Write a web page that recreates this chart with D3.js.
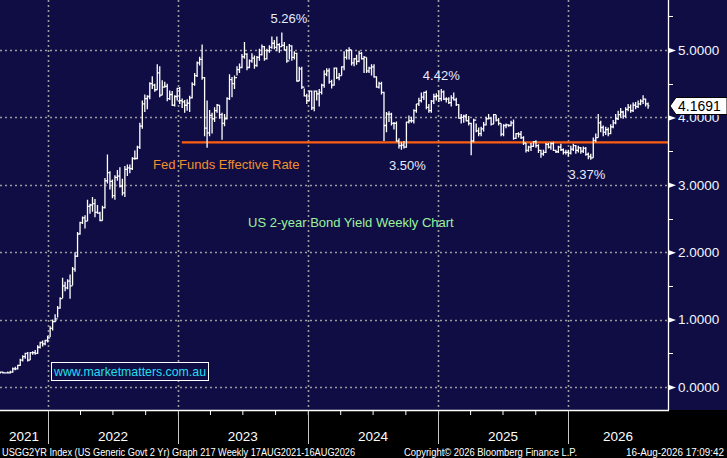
<!DOCTYPE html>
<html>
<head>
<meta charset="utf-8">
<script src="https://cdn.jsdelivr.net/npm/d3@7"></script>
<style>
  html, body { margin: 0; padding: 0; background: #000; }
  svg { display: block; }
  text { font-family: "Liberation Sans", Arial, sans-serif; }
</style>
</head>
<body>
<svg id="chart" width="727" height="458"></svg>
<script>
// weekly bars, first bar week ending 20 Aug 2021, one bar per week
const firstWeek = Date.UTC(2021, 7, 20);

const closes = [
  // 2021
  0.22,0.21,0.21,0.21,0.22,0.27,0.27,0.32,0.40,0.45,0.50,0.40,0.51,0.51,0.50,0.59,0.66,0.64,0.69,0.73,
  // 2022
  0.87,0.97,1.01,1.17,1.31,1.50,1.47,1.57,1.50,1.75,1.94,2.27,2.44,2.51,2.46,2.68,2.70,2.72,2.59,2.58,2.47,2.66,3.06,3.18,3.05,2.84,
  3.11,3.13,2.98,2.88,3.23,3.25,3.24,3.39,3.39,3.56,3.87,4.20,4.28,4.31,4.50,4.48,4.41,4.66,4.33,4.45,4.46,4.28,4.34,4.18,4.31,4.43,
  // 2023
  4.25,4.23,4.18,4.21,4.29,4.49,4.62,4.81,4.86,4.59,3.84,3.77,4.03,3.98,4.10,4.18,4.04,3.91,3.98,4.28,4.56,4.50,4.59,4.71,4.74,4.90,
  4.94,4.74,4.84,4.88,4.77,4.89,4.93,5.05,4.87,4.99,5.04,5.10,5.04,5.08,5.05,5.07,5.00,4.84,5.06,4.89,4.95,4.54,4.72,4.45,4.32,4.25,
  // 2024
  4.39,4.14,4.39,4.35,4.37,4.48,4.64,4.69,4.53,4.48,4.73,4.59,4.62,4.75,4.89,4.99,5.00,4.81,4.87,4.83,4.95,4.87,4.89,4.69,4.73,4.75,
  4.60,4.45,4.50,4.37,3.88,4.05,4.05,3.91,3.91,3.65,3.58,3.59,3.56,3.93,3.95,3.95,4.10,4.20,4.25,4.30,4.37,4.15,4.10,4.24,4.31,4.32,
  // 2025
  4.28,4.38,4.27,4.27,4.22,4.29,4.26,4.19,3.99,4.00,4.02,3.95,3.91,3.65,3.96,3.80,3.76,3.83,3.89,3.98,3.99,3.90,4.04,3.96,3.91,3.75,
  3.88,3.89,3.88,3.92,3.69,3.76,3.75,3.70,3.62,3.51,3.56,3.57,3.64,3.58,3.51,3.46,3.48,3.60,3.56,3.61,3.51,3.49,3.56,3.52,3.48,3.48,
  // 2026
  3.47,3.53,3.58,3.51,3.55,3.50,3.54,3.45,3.42,3.40,3.66,3.70,3.92,3.85,3.78,3.82,3.76,3.86,3.92,3.98,4.04,4.08,4.02,4.12,4.15,4.10,
  4.18,4.16,4.20,4.24,4.27,4.20,4.17
];

const highs = [
  0.23,0.23,0.22,0.23,0.24,0.29,0.30,0.33,0.42,0.47,0.51,0.52,0.52,0.53,0.55,0.62,0.67,0.69,0.70,0.76,
  0.90,1.00,1.08,1.20,1.33,1.62,1.56,1.60,1.67,1.78,2.00,2.30,2.45,2.53,2.55,2.78,2.72,2.82,2.79,2.70,2.60,2.69,3.10,3.45,3.20,3.08,
  3.14,3.22,3.26,3.09,3.28,3.30,3.30,3.41,3.51,3.58,3.92,4.25,4.34,4.33,4.52,4.61,4.50,4.79,4.76,4.55,4.53,4.50,4.40,4.39,4.33,4.44,
  4.45,4.28,4.26,4.27,4.32,4.52,4.66,4.83,4.90,5.08,4.60,4.25,4.11,4.07,4.15,4.20,4.18,4.07,4.05,4.30,4.64,4.60,4.62,4.76,4.80,4.94,
  5.12,4.95,4.86,4.95,4.92,4.91,5.02,5.08,5.06,5.02,5.07,5.20,5.15,5.20,5.10,5.26,5.12,5.06,5.09,5.07,4.98,4.96,4.75,4.75,4.43,4.35,
  4.40,4.40,4.40,4.40,4.42,4.50,4.70,4.73,4.73,4.56,4.74,4.74,4.66,4.76,4.98,5.01,5.04,5.00,4.88,4.93,4.99,4.97,4.91,4.89,4.75,4.79,
  4.79,4.61,4.53,4.53,4.38,4.08,4.09,4.07,3.93,3.94,3.69,3.64,3.65,3.94,4.03,4.01,4.12,4.20,4.29,4.37,4.38,4.40,4.20,4.26,4.35,4.36,
  4.40,4.42,4.40,4.30,4.30,4.33,4.37,4.29,4.20,4.05,4.04,4.05,4.02,3.92,3.98,3.91,3.85,3.86,3.93,4.01,4.05,4.00,4.05,4.04,3.99,3.91,
  3.90,3.91,3.90,3.95,3.97,3.77,3.78,3.80,3.72,3.62,3.58,3.62,3.65,3.66,3.60,3.52,3.52,3.62,3.62,3.63,3.64,3.52,3.58,3.61,3.54,3.52,
  3.52,3.58,3.61,3.59,3.58,3.56,3.57,3.56,3.48,3.46,3.70,3.76,4.05,3.95,3.88,3.86,3.85,3.90,3.96,4.05,4.10,4.14,4.10,4.15,4.20,4.19,
  4.22,4.23,4.25,4.27,4.33,4.28,4.22
];

const lows = [
  0.20,0.20,0.20,0.20,0.20,0.21,0.25,0.26,0.31,0.38,0.42,0.38,0.40,0.48,0.48,0.49,0.57,0.60,0.62,0.66,
  0.74,0.84,0.96,1.03,1.16,1.32,1.42,1.45,1.31,1.51,1.71,1.93,2.26,2.42,2.35,2.46,2.57,2.60,2.52,2.57,2.46,2.47,2.65,3.02,2.93,2.80,
  2.78,3.06,2.96,2.84,2.82,3.13,3.17,3.22,3.37,3.38,3.53,3.83,4.08,4.12,4.27,4.42,4.38,4.41,4.30,4.33,4.44,4.24,4.26,4.17,4.16,4.25,
  4.20,4.14,4.07,4.10,4.08,4.28,4.47,4.60,4.77,4.56,3.72,3.55,3.72,3.76,3.93,4.07,3.98,3.67,3.87,3.97,4.26,4.30,4.42,4.62,4.66,4.73,
  4.87,4.70,4.73,4.81,4.72,4.75,4.84,4.92,4.84,4.86,4.96,5.02,5.01,4.98,4.96,5.05,4.99,4.81,4.86,4.84,4.86,4.53,4.54,4.42,4.31,4.20,
  4.24,4.11,4.09,4.25,4.16,4.34,4.44,4.61,4.50,4.43,4.47,4.57,4.55,4.62,4.70,4.86,4.86,4.77,4.76,4.78,4.82,4.86,4.66,4.66,4.66,4.62,
  4.59,4.44,4.43,4.34,3.65,3.78,3.93,3.88,3.82,3.64,3.54,3.52,3.54,3.55,3.91,3.92,3.91,4.07,4.17,4.22,4.26,4.12,4.07,4.07,4.20,4.25,
  4.23,4.24,4.26,4.22,4.20,4.16,4.25,4.17,3.98,3.91,3.92,3.94,3.88,3.44,3.63,3.78,3.72,3.72,3.79,3.88,3.97,3.88,3.90,3.94,3.88,3.72,
  3.72,3.84,3.86,3.87,3.67,3.68,3.70,3.68,3.59,3.48,3.49,3.50,3.56,3.55,3.47,3.40,3.43,3.47,3.54,3.52,3.50,3.47,3.47,3.50,3.45,3.45,
  3.42,3.45,3.50,3.46,3.48,3.46,3.47,3.43,3.38,3.37,3.40,3.63,3.70,3.78,3.72,3.74,3.72,3.75,3.84,3.90,3.96,4.00,3.98,4.00,4.09,4.07,
  4.08,4.12,4.14,4.18,4.20,4.16,4.13
];

const yTicks = [0, 1, 2, 3, 4, 5];
const yMinor = [0.5, 1.5, 2.5, 3.5, 4.5, 5.5];
const years = [2021, 2022, 2023, 2024, 2025, 2026];
const lastPrice = 4.1691;

const fedRate = 3.63;
const fedStart = Date.UTC(2023, 0, 12);

// annotations: [text, date, value, above?]
const callouts = [
  ['5.26%', Date.UTC(2023, 10, 9), 5.26, true],
  ['4.42%', Date.UTC(2025, 0, 10), 4.42, true],
  ['3.50%', Date.UTC(2024, 9, 7), 3.50, false],
  ['3.37%', Date.UTC(2026, 1, 23), 3.37, false]
];

const footLeft = 'USGG2YR Index (US Generic Govt 2 Yr) Graph 217 Weekly 17AUG2021-16AUG2026';
const footMid = 'Copyright\u00A9 2026 Bloomberg Finance L.P.';
const footRight = '16-Aug-2026 17:09:42';

const navy = '#0f0d44';
const plotR = 668, plotB = 410;

const svg = d3.select('#chart');

const x = d3.scaleUtc()
  .domain([new Date(Date.UTC(2022, 0, 1)), new Date(Date.UTC(2026, 0, 1))])
  .range([48, 568]);
const y = d3.scaleLinear().domain([0, 5]).range([387, 50]);

const weeks = closes.map((c, i) => ({
  date: d3.utcDay.offset(new Date(firstWeek), 7 * i),
  open: i === 0 ? c : closes[i - 1],
  high: highs[i],
  low: lows[i],
  close: c
}));

svg.append('rect').attr('x', 0).attr('y', 0).attr('width', 727).attr('height', plotB).attr('fill', navy);

// --- GRID ---
svg.append('g').selectAll('line').data(yTicks).enter().append('line')
  .attr('x1', 0).attr('x2', plotR)
  .attr('y1', d => Math.round(y(d)) + 0.5).attr('y2', d => Math.round(y(d)) + 0.5)
  .attr('stroke', '#9c9c9c').attr('stroke-width', 1.6).attr('stroke-dasharray', '2,3');

const yearStarts = years.slice(1).map(yr => new Date(Date.UTC(yr, 0, 1)));
svg.append('g').selectAll('line').data(yearStarts).enter().append('line')
  .attr('x1', d => Math.round(x(d)) + 0.5).attr('x2', d => Math.round(x(d)) + 0.5)
  .attr('y1', 0).attr('y2', plotB)
  .attr('stroke', '#9c9c9c').attr('stroke-width', 1.6).attr('stroke-dasharray', '2,3');

// --- FED FUNDS LINE ---
svg.append('line')
  .attr('x1', x(new Date(fedStart))).attr('x2', plotR)
  .attr('y1', y(fedRate)).attr('y2', y(fedRate))
  .attr('stroke', '#ff5f0f').attr('stroke-width', 2.2);

// --- OHLC BARS ---
const bars = svg.append('g').attr('stroke', '#fff').attr('stroke-width', 1.3).attr('fill', 'none');
weeks.forEach(d => {
  const cx = x(d.date);
  bars.append('path')
    .attr('d', `M${cx},${y(d.high)}V${y(d.low)}M${cx - 1.3},${y(d.open)}H${cx}M${cx},${y(d.close)}H${cx + 1.3}`);
});

// --- TEXTS ---
svg.append('text').attr('x', 153).attr('y', 169)
  .attr('fill', '#f0902c').attr('font-size', 13).text('Fed Funds Effective Rate');
svg.append('text').attr('x', 248).attr('y', 227)
  .attr('fill', '#9cf29c').attr('font-size', 13).text('US 2-year Bond Yield Weekly Chart');

svg.append('g').selectAll('text').data(callouts).enter().append('text')
  .attr('x', d => x(new Date(d[1])))
  .attr('y', d => d[3] ? y(d[2]) - 9 : y(d[2]) + 19)
  .attr('text-anchor', 'middle')
  .attr('fill', '#e4ecff').attr('font-size', 13)
  .text(d => d[0]);

// watermark
svg.append('rect').attr('x', 51.5).attr('y', 362.5).attr('width', 157).attr('height', 18)
  .attr('fill', navy).attr('stroke', '#fff').attr('stroke-width', 1);
svg.append('text').attr('x', 54).attr('y', 376)
  .attr('textLength', 152).attr('lengthAdjust', 'spacingAndGlyphs')
  .attr('fill', '#22dff0').attr('font-size', 13).text('www.marketmatters.com.au');

// --- RIGHT AXIS ---
const yAxis = svg.append('g').attr('transform', `translate(${plotR},0)`)
  .call(d3.axisRight(y).tickValues(yTicks).tickFormat(d3.format('.4f')).tickSize(0).tickPadding(10));
yAxis.select('.domain').remove();
yAxis.selectAll('text').attr('fill', '#f2f6ff').attr('font-size', 13.5)
  .attr('font-family', '"Liberation Sans", Arial, sans-serif');
yAxis.selectAll('.tick').append('path').attr('d', 'M1,-2.5L8,0L1,2.5Z').attr('fill', '#fff');
svg.append('g').selectAll('line').data(yMinor).enter().append('line')
  .attr('x1', plotR).attr('x2', plotR + 5)
  .attr('y1', d => Math.round(y(d)) + 0.5).attr('y2', d => Math.round(y(d)) + 0.5)
  .attr('stroke', '#fff').attr('stroke-width', 1);
svg.append('line').attr('x1', plotR + 0.5).attr('x2', plotR + 0.5).attr('y1', 0).attr('y2', plotB)
  .attr('stroke', '#fff').attr('stroke-width', 1.3);

// last price box (sits over the top half of the 4.0000 label, as in the original)
const ly = y(lastPrice);
svg.append('path')
  .attr('d', `M${plotR + 2},${ly}L${plotR + 8},${ly - 8.5}H727V${ly + 8.5}H${plotR + 8}Z`)
  .attr('fill', '#fff').attr('stroke', '#000').attr('stroke-width', 1);
svg.append('text').attr('x', plotR + 10).attr('y', ly + 5)
  .attr('fill', '#000').attr('font-size', 14).text(d3.format('.4f')(lastPrice));

// --- BOTTOM AXIS ---
svg.append('line').attr('x1', 0).attr('x2', plotR + 1).attr('y1', plotB + 0.5).attr('y2', plotB + 0.5)
  .attr('stroke', '#fff').attr('stroke-width', 1.3);
const xAxis = svg.append('g').attr('transform', `translate(0,${plotB + 1})`)
  .call(d3.axisBottom(x).ticks(d3.utcMonth.every(3)).tickFormat('').tickSize(4));
xAxis.select('.domain').remove();
xAxis.selectAll('line').attr('stroke', '#fff');
xAxis.selectAll('.tick').filter(d => d < x.invert(0) || d > x.invert(plotR)).remove();

svg.append('g').selectAll('line').data(yearStarts).enter().append('line')
  .attr('x1', d => Math.round(x(d)) + 0.5).attr('x2', d => Math.round(x(d)) + 0.5)
  .attr('y1', plotB + 1).attr('y2', 444)
  .attr('stroke', '#c8c8c8').attr('stroke-width', 1);

svg.append('g').selectAll('text').data(years).enter().append('text')
  .attr('x', yr => {
    const a = Math.max(0, x(new Date(Date.UTC(yr, 0, 1))));
    const b = Math.min(plotR, x(new Date(Date.UTC(yr + 1, 0, 1))));
    return (a + b) / 2;
  })
  .attr('y', 441).attr('text-anchor', 'middle')
  .attr('fill', '#fff').attr('font-size', 13.5)
  .attr('font-family', '"DejaVu Sans Condensed", "Liberation Sans", sans-serif')
  .text(yr => yr);

// footer
const foot = svg.append('g').attr('fill', '#fff').attr('font-size', 10)
  .attr('font-family', '"DejaVu Sans Condensed", "Liberation Sans", sans-serif');
foot.append('text').attr('x', 2).attr('y', 456).attr('textLength', 353).attr('lengthAdjust', 'spacingAndGlyphs').text(footLeft);
foot.append('text').attr('x', 404).attr('y', 456).attr('textLength', 173).attr('lengthAdjust', 'spacingAndGlyphs').text(footMid);
foot.append('text').attr('x', 626).attr('y', 456).attr('textLength', 98).attr('lengthAdjust', 'spacingAndGlyphs').text(footRight);
</script>
</body>
</html>
